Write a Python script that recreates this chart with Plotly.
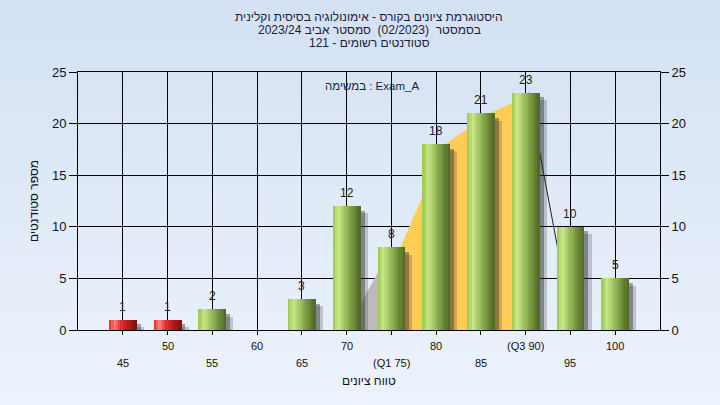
import base64
import plotly.graph_objects as go

# ---------------- data ----------------
scores = [45, 50, 55, 60, 65, 70, 75, 80, 85, 90, 95, 100]
counts = [1, 1, 2, 0, 3, 12, 8, 18, 21, 23, 10, 5]
pass_mark = 55

# inter-quartile shaded region (Q1 .. Q3)
iqr_x = [75, 80, 85, 90]
iqr_y = [8, 18, 21, 23]
# light side shade before Q1
side_x = [70, 75]
side_y = [0, 8]
# slanted line after Q3
tail_x = [90, 95]
tail_y = [23, 0]

row1_vals = [50, 60, 70, 80, 90, 100]
row1_text = ["50", "60", "70", "80", "(Q3 90)", "100"]
row2_vals = [45, 55, 65, 75, 85, 95]
row2_text = ["45", "55", "65", "(Q1 75)", "85", "95"]

title_lines = [
    "היסטוגרמת ציונים בקורס - אימונולוגיה בסיסית וקלינית",
    "בסמסטר  (02/2023)  סמסטר אביב 2023/24",
    "סטודנטים רשומים - 121",
]
task_label = "במשימה : Exam_A"
x_title = "טווח ציונים"
y_title = "מספר סטודנטים"

# ---------------- style ----------------
FONT = "Liberation Sans, DejaVu Sans, Arial, sans-serif"
BAR_W = 3.1
N_STRIPS = 12
DEPTH = 1.0  # 3D offset of shaded area (x units)

green_stops = [(0.0, (152, 200, 70)), (0.2, (202, 230, 138)), (0.45, (158, 192, 92)),
               (0.75, (110, 140, 58)), (1.0, (76, 100, 36))]
red_stops = [(0.0, (225, 40, 40)), (0.2, (255, 125, 125)), (0.45, (225, 45, 45)),
             (0.75, (170, 25, 25)), (1.0, (120, 18, 18))]


def interp(stops, t):
    for (t0, c0), (t1, c1) in zip(stops[:-1], stops[1:]):
        if t0 <= t <= t1:
            f = (t - t0) / (t1 - t0)
            c = [round(a + (b - a) * f) for a, b in zip(c0, c1)]
            return "rgb(%d,%d,%d)" % tuple(c)
    return "rgb(%d,%d,%d)" % stops[-1][1]


fig = go.Figure()

# ---- base subplot (drawn first): shaded areas ----
fig.add_trace(go.Scatter(x=side_x + [side_x[-1]], y=side_y + [0], fill="toself",
                         fillcolor="#bbbbbb", line=dict(width=0), mode="lines",
                         hoverinfo="skip", showlegend=False))
fig.add_trace(go.Scatter(x=[iqr_x[0] + DEPTH] + [v + DEPTH for v in iqr_x] + [iqr_x[-1] + DEPTH],
                         y=[0] + iqr_y + [0], fill="toself", fillcolor="#ffcc55",
                         line=dict(width=0), mode="lines", hoverinfo="skip", showlegend=False))
fig.add_trace(go.Scatter(x=[v + 0.3 for v in tail_x], y=tail_y, mode="lines",
                         line=dict(color="#202020", width=1), hoverinfo="skip", showlegend=False))

# ---- overlay subplot (drawn on top): shadows + bars ----
for dx, dy, alpha in [(0.8, 0.7, 0.22), (0.45, 0.45, 0.40)]:
    fig.add_trace(go.Bar(x=scores, y=[max(c - dy, 0) for c in counts], width=BAR_W,
                         offset=-BAR_W / 2 + dx, yaxis="y2",
                         marker=dict(color="rgba(40,40,40,%.2f)" % alpha, line=dict(width=0)),
                         hoverinfo="skip", showlegend=False))

sw = BAR_W / N_STRIPS
for i in range(N_STRIPS):
    t = (i + 0.5) / N_STRIPS
    cols = [interp(red_stops if s < pass_mark else green_stops, t) for s in scores]
    fig.add_trace(go.Bar(x=scores, y=counts, width=sw * 1.05, offset=-BAR_W / 2 + i * sw,
                         yaxis="y2", marker=dict(color=cols, line=dict(width=0)),
                         hoverinfo="skip", showlegend=False))

annotations = []
for s, c in zip(scores, counts):
    if c > 0:
        annotations.append(dict(x=s, y=c, xref="x", yref="y", text=str(c), showarrow=False,
                                yanchor="bottom", yshift=4, font=dict(size=12, color="#222222", family=FONT)))
for v, t in zip(row1_vals, row1_text):
    annotations.append(dict(x=v, y=0, xref="x", yref="paper", text=t, showarrow=False,
                            yanchor="middle", yshift=-16, font=dict(size=11, color="#111111", family=FONT)))
for v, t in zip(row2_vals, row2_text):
    annotations.append(dict(x=v, y=0, xref="x", yref="paper", text=t, showarrow=False,
                            yanchor="middle", yshift=-33, font=dict(size=11, color="#111111", family=FONT)))
annotations.append(dict(x=0.5, y=0, xref="paper", yref="paper", text=x_title, showarrow=False,
                        yanchor="middle", yshift=-51, font=dict(size=12, color="#111111", family=FONT)))
annotations.append(dict(x=0, y=0.5, xref="paper", yref="paper", text=y_title, showarrow=False,
                        textangle=-90, xanchor="center", xshift=-44, font=dict(size=12, color="#111111", family=FONT)))
for i, line in enumerate(title_lines):
    annotations.append(dict(x=0.5, y=1, xref="paper", yref="paper", text=line, showarrow=False,
                            yanchor="middle", yshift=72 - 17 - 13 * i,
                            font=dict(size=12, color="#1c1c3a", family=FONT)))
annotations.append(dict(x=0.505, y=1, xref="paper", yref="paper", text=task_label, showarrow=False,
                        yanchor="middle", yshift=-14, font=dict(size=11.5, color="#1c1c3a", family=FONT)))

svg = ("<svg xmlns='http://www.w3.org/2000/svg' width='720' height='405' preserveAspectRatio='none'>"
       "<defs><linearGradient id='g' x1='0' y1='0' x2='0' y2='1'>"
       "<stop offset='0' stop-color='#d3e1f3'/><stop offset='1' stop-color='#edf3fc'/>"
       "</linearGradient></defs><rect width='720' height='405' fill='url(#g)'/></svg>")
img_src = "data:image/svg+xml;base64," + base64.b64encode(svg.encode()).decode()

L, R, T, B = 78, 60, 72, 75
PW, PH = 720 - L - R, 405 - T - B

axis_common = dict(range=[0, 25], dtick=5, ticks="outside", ticklen=8, tickcolor="black",
                   tickfont=dict(size=13, color="#111111", family=FONT), showline=True,
                   linecolor="black", zeroline=False)

fig.update_layout(
    width=720, height=405,
    margin=dict(l=L, r=R, t=T, b=B),
    paper_bgcolor="#e0eaf7", plot_bgcolor="#b4b4b4",
    barmode="overlay", bargap=0,
    showlegend=False, hovermode=False,
    xaxis=dict(range=[40, 105], tickvals=scores, ticks="outside", ticklen=4, tickcolor="black",
               showticklabels=False, showgrid=True, gridcolor="black", gridwidth=1,
               showline=True, linecolor="black", mirror=True, zeroline=False),
    yaxis=dict(**axis_common, showgrid=True, gridcolor="black", gridwidth=1, mirror=True),
    yaxis2=dict(**axis_common, overlaying="y", side="right", showgrid=False),
    annotations=annotations,
    images=[dict(source=img_src, xref="paper", yref="paper", x=-L / PW, y=1 + T / PH,
                 sizex=720 / PW, sizey=405 / PH, sizing="stretch", layer="below",
                 xanchor="left", yanchor="top")],
)

fig.write_html("out.html", config={"displayModeBar": False},
               post_script="document.body.style.margin='0';")
